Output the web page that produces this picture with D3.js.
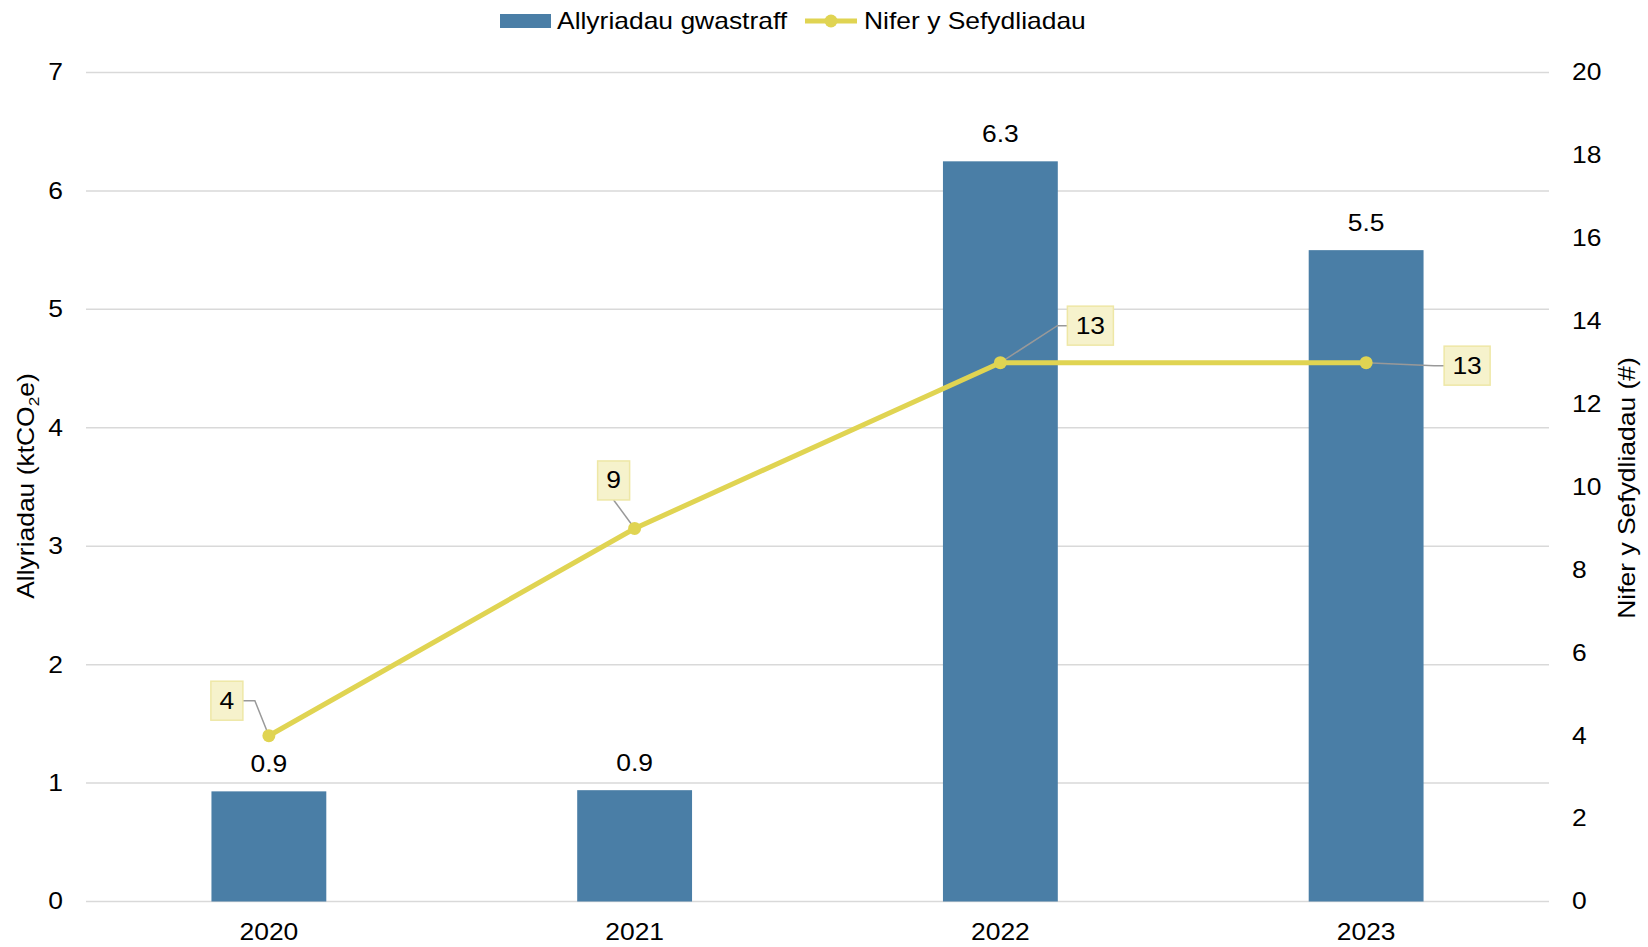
<!DOCTYPE html>
<html><head><meta charset="utf-8">
<script src="https://cdn.jsdelivr.net/npm/d3@7"></script>
<style>body{margin:0;background:#fff}svg{display:block;font-family:"Liberation Sans",Arial,sans-serif}</style>
</head><body><svg id="c" width="1648" height="947"></svg>
<script>
const categories = ["2020","2021","2022","2023"];
const emissions = [0.93, 0.94, 6.25, 5.5];
const emissionLabels = ["0.9","0.9","6.3","5.5"];
const sites = [4, 9, 13, 13];
const leftTicks = [0,1,2,3,4,5,6,7];
const rightTicks = [0,2,4,6,8,10,12,14,16,18,20];
const seriesNames = ["Allyriadau gwastraff","Nifer y Sefydliadau"];
// label box offsets from each point [dx, dy] (layout only)
const siteLabelOffsets = [[-42,-35],[-21,-48],[90,-37],[101,3]];

const SX = 1.15; // horizontal text stretch seen in the reference
const svg = d3.select("#c");
const L = 86, R = 1549, T = 72.5, B = 901.5;
const x = d3.scaleBand().domain(categories).range([L,R]).paddingInner(0.686).paddingOuter(0.343);
const yL = d3.scaleLinear().domain([0,7]).range([B,T]);
const yR = d3.scaleLinear().domain([0,20]).range([B,T]);
const barColor = "#4A7EA6", lineColor = "#E0D452";
const fs = 23;

function txt(parent, tx, ty, s, size, anchor, rot) {
  return parent.append("text")
    .attr("transform", `translate(${tx},${ty})${rot?" rotate("+rot+")":""} scale(${SX},1)`)
    .attr("text-anchor", anchor||"middle").attr("font-size", size||fs).attr("fill","#000").text(s);
}

// gridlines
svg.append("g").selectAll("line").data(leftTicks).join("line")
  .attr("x1",L).attr("x2",R).attr("y1",d=>yL(d)).attr("y2",d=>yL(d))
  .attr("stroke","#d9d9d9").attr("stroke-width",1.5);

function styleAxis(g){
  g.select(".domain").remove();
  g.selectAll("text").attr("font-size",fs).attr("fill","#000")
    .attr("font-family","Liberation Sans, Arial, sans-serif")
    .attr("transform",`scale(${SX},1)`);
}
// left axis
const gl = svg.append("g").attr("transform",`translate(${L-23},0)`)
  .call(d3.axisLeft(yL).tickValues(leftTicks).tickFormat(d3.format("d")).tickSize(0).tickPadding(0));
styleAxis(gl);
// right axis
const gr = svg.append("g").attr("transform",`translate(${R+23},0)`)
  .call(d3.axisRight(yR).tickValues(rightTicks).tickFormat(d3.format("d")).tickSize(0).tickPadding(0));
styleAxis(gr);
// bottom axis
const gb = svg.append("g").attr("transform",`translate(0,${B})`)
  .call(d3.axisBottom(x).tickSize(0).tickPadding(22));
styleAxis(gb);

// bars
svg.append("g").selectAll("rect").data(categories).join("rect")
  .attr("x",d=>x(d)).attr("width",x.bandwidth())
  .attr("y",(d,i)=>yL(emissions[i])).attr("height",(d,i)=>B-yL(emissions[i]))
  .attr("fill",barColor);

// bar labels
categories.forEach((c,i)=>{
  txt(svg, x(c)+x.bandwidth()/2, yL(emissions[i])-19, emissionLabels[i]);
});

// line
const cx = d=>x(d)+x.bandwidth()/2;
svg.append("path").datum(categories)
  .attr("d",d3.line().x(d=>cx(d)).y((d,i)=>yR(sites[i])))
  .attr("fill","none").attr("stroke",lineColor).attr("stroke-width",5);

// leader lines
const boxH = 39;
const boxW = v => String(v).length>1 ? 46 : 32;
categories.forEach((c,i)=>{
  const px = cx(c), py = yR(sites[i]);
  const [dx,dy] = siteLabelOffsets[i];
  const bx = px+dx, by = py+dy, w = boxW(sites[i]);
  let pts;
  if (i===0) pts = [[bx+w/2,by],[bx+w/2+12,by],[px,py]];
  else if (i===1) pts = [[bx,by+boxH/2],[px,py]];
  else pts = [[px,py],[bx-w/2-10,by],[bx-w/2,by]];
  svg.append("path").attr("d",d3.line()(pts)).attr("fill","none")
    .attr("stroke","#999").attr("stroke-width",1.5);
});

// markers
svg.append("g").selectAll("circle").data(categories).join("circle")
  .attr("cx",cx).attr("cy",(d,i)=>yR(sites[i])).attr("r",6.5).attr("fill",lineColor);

// label boxes
categories.forEach((c,i)=>{
  const px = cx(c), py = yR(sites[i]);
  const [dx,dy] = siteLabelOffsets[i];
  const bx = px+dx, by = py+dy, w = boxW(sites[i]);
  svg.append("rect").attr("x",bx-w/2).attr("y",by-boxH/2).attr("width",w).attr("height",boxH)
    .attr("fill","#F6F2CC").attr("stroke","#EEE7A6").attr("stroke-width",1.5);
  txt(svg, bx, by+8, sites[i]);
});

// axis titles
const lt = txt(svg, 34, 486, "", fs, "middle", -90);
lt.append("tspan").text("Allyriadau (ktCO");
lt.append("tspan").text("2").attr("font-size",15).attr("dy",5);
lt.append("tspan").text("e)").attr("dy",-5);

txt(svg, 1635, 488, "Nifer y Sefydliadau (#)", fs, "middle", -90);

// legend
const lg = svg.append("g");
lg.append("rect").attr("x",500).attr("y",14).attr("width",51).attr("height",14).attr("fill",barColor);
txt(lg, 557, 29, seriesNames[0], 23, "start");
lg.append("line").attr("x1",805).attr("x2",857).attr("y1",21).attr("y2",21).attr("stroke",lineColor).attr("stroke-width",5);
lg.append("circle").attr("cx",831).attr("cy",21).attr("r",6.5).attr("fill",lineColor);
txt(lg, 864, 29, seriesNames[1], 23, "start");
</script></body></html>
